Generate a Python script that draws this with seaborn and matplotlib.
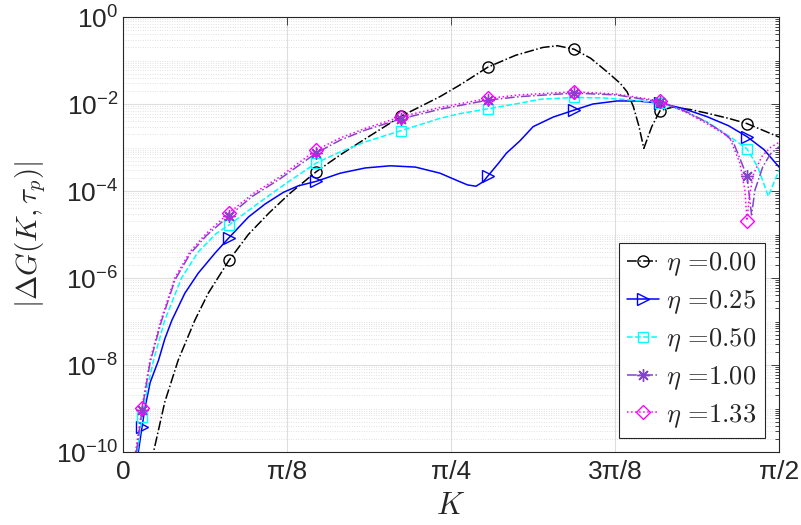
import numpy as np
import pandas as pd
import matplotlib
matplotlib.use("Agg")
import matplotlib.pyplot as plt
import seaborn as sns
from matplotlib.font_manager import FontProperties
from matplotlib.ticker import LogLocator, NullFormatter

# K positions where markers sit (same for every curve)
MARK_K = [0.0455, 0.254, 0.462, 0.666, 0.874, 1.080, 1.286, 1.494]

# eta = 0.00 (black, dash-dot, circles); values are log10 |dG|
k_eta000 = [0.0455, 0.073, 0.100, 0.132, 0.172, 0.204, 0.254, 0.300, 0.350, 0.400,
            0.462, 0.520, 0.580, 0.666, 0.759, 0.807, 0.874, 0.940, 1.005, 1.040,
            1.080, 1.120, 1.159, 1.190, 1.207, 1.222, 1.235, 1.247, 1.266, 1.286,
            1.317, 1.360, 1.398, 1.450, 1.494, 1.5708]
log_eta000 = [-11.7, -10.0, -8.85, -7.89, -6.97, -6.35, -5.59, -5.0, -4.5, -4.05,
              -3.56, -3.17, -2.80, -2.28, -1.83, -1.56, -1.15, -0.88, -0.70, -0.66,
              -0.74, -0.95, -1.26, -1.52, -1.72, -2.06, -2.5, -3.02, -2.52, -2.15,
              -2.07, -2.13, -2.21, -2.33, -2.45, -2.76]

# eta = 0.25 (blue, solid, triangles)
k_eta025 = [0.0366, 0.0455, 0.053, 0.065, 0.085, 0.100, 0.117, 0.148, 0.180, 0.220,
            0.254, 0.300, 0.340, 0.384, 0.420, 0.462, 0.520, 0.580, 0.640, 0.700,
            0.759, 0.800, 0.825, 0.845, 0.862, 0.874, 0.900, 0.918, 0.950, 0.982,
            1.030, 1.080, 1.125, 1.183, 1.230, 1.286, 1.340, 1.398, 1.450, 1.494,
            1.535, 1.5708]
log_eta025 = [-10.0, -9.42, -8.96, -8.4, -7.89, -7.4, -6.97, -6.35, -5.89, -5.43,
              -5.07, -4.6, -4.3, -4.03, -3.88, -3.78, -3.59, -3.47, -3.42, -3.45,
              -3.59, -3.76, -3.86, -3.89, -3.79, -3.65, -3.35, -3.13, -2.85, -2.52,
              -2.30, -2.14, -2.00, -1.93, -1.93, -1.98, -2.10, -2.29, -2.50, -2.75,
              -3.05, -3.45]

# eta = 0.50 (cyan, dashed, squares)
k_eta050 = [0.034, 0.0455, 0.060, 0.073, 0.100, 0.140, 0.180, 0.224, 0.254, 0.300,
            0.350, 0.400, 0.462, 0.520, 0.580, 0.666, 0.759, 0.807, 0.874, 0.950,
            1.000, 1.080, 1.150, 1.207, 1.286, 1.340, 1.398, 1.453, 1.494, 1.520,
            1.545, 1.5708]
log_eta050 = [-10.0, -9.2, -8.45, -7.89, -6.97, -6.0, -5.4, -4.97, -4.78, -4.45,
              -4.1, -3.76, -3.36, -3.10, -2.87, -2.61, -2.33, -2.22, -2.11, -1.98,
              -1.89, -1.85, -1.86, -1.90, -1.97, -2.15, -2.41, -2.75, -3.03, -3.45,
              -4.12, -3.52]

# eta = 1.00 (purple, dash-dot, asterisks)
k_eta100 = [0.032, 0.0455, 0.0646, 0.091, 0.124, 0.160, 0.200, 0.254, 0.310, 0.376,
            0.462, 0.520, 0.580, 0.666, 0.759, 0.874, 0.950, 1.080, 1.180, 1.286,
            1.350, 1.398, 1.436, 1.460, 1.477, 1.494, 1.505, 1.513, 1.532, 1.550, 1.5708]
log_eta100 = [-10.0, -9.03, -7.95, -7.02, -6.05, -5.45, -5.02, -4.57, -4.12, -3.72,
              -3.13, -2.83, -2.60, -2.34, -2.12, -1.91, -1.83, -1.75, -1.79, -1.95,
              -2.18, -2.42, -2.65, -2.85, -3.25, -3.66, -4.55, -3.98, -3.44, -3.15, -2.98]

# eta = 1.33 (magenta, dotted, diamonds)
k_eta133 = [0.030, 0.0455, 0.0646, 0.091, 0.124, 0.160, 0.200, 0.254, 0.310, 0.376,
            0.462, 0.520, 0.580, 0.666, 0.759, 0.874, 0.950, 1.080, 1.180, 1.221,
            1.286, 1.350, 1.398, 1.436, 1.453, 1.477, 1.489, 1.494, 1.500, 1.510,
            1.530, 1.550, 1.5708]
log_eta133 = [-10.0, -8.98, -7.89, -6.97, -6.0, -5.40, -4.97, -4.50, -4.07, -3.67,
              -3.06, -2.78, -2.56, -2.29, -2.08, -1.87, -1.79, -1.72, -1.77, -1.83,
              -1.93, -2.2, -2.45, -2.67, -2.78, -3.36, -3.98, -4.68, -4.1, -3.6,
              -3.2, -3.0, -2.88]

LABELS = [r"$\eta$ =0.00", r"$\eta$ =0.25", r"$\eta$ =0.50", r"$\eta$ =1.00", r"$\eta$ =1.33"]
XTICK_POS = [0, np.pi / 8, np.pi / 4, 3 * np.pi / 8, np.pi / 2]
XTICK_LABELS = ["0", "\u03c0/8", "\u03c0/4", "3\u03c0/8", "\u03c0/2"]
YTICK_VALS = [1e-10, 1e-8, 1e-6, 1e-4, 1e-2, 1e0]
YTICK_LABELS = [r"$10^{-10}$", r"$10^{-8}$", r"$10^{-6}$", r"$10^{-4}$", r"$10^{-2}$", r"$10^{0}$"]

sns.set_theme(style="white")
plt.rcParams["font.family"] = ["Liberation Sans", "DejaVu Sans"]
plt.rcParams["mathtext.fontset"] = "custom"
plt.rcParams["mathtext.rm"] = "Liberation Sans"
plt.rcParams["mathtext.it"] = "Liberation Sans:italic"
plt.rcParams["mathtext.bf"] = "Liberation Sans:bold"

fig = plt.figure(figsize=(8.01, 5.25), dpi=100)
ax = fig.add_axes([0.1536, 0.139, 0.819, 0.8286])
ax.set_yscale("log")

series = [
    (k_eta000, log_eta000, "black", "-.", "o", 8),
    (k_eta025, log_eta025, "#0000FF", "-", ">", 8),
    (k_eta050, log_eta050, "#00FFFF", "--", "s", 7),
    (k_eta100, log_eta100, "#8344C8", "-.", (8, 2, 0), 9),
    (k_eta133, log_eta133, "#FF00FF", ":", "D", 7),
]

for (k, lg, color, ls, marker, ms), label in zip(series, LABELS):
    df = pd.DataFrame({"K": k, "dG": 10.0 ** np.array(lg)})
    idx = [i for i, kv in enumerate(k) if kv in MARK_K]
    sns.lineplot(data=df, x="K", y="dG", ax=ax, color=color, linestyle=ls,
                 linewidth=1.1, marker=marker, markersize=ms,
                 markerfacecolor="none", markeredgecolor=color,
                 markeredgewidth=1.0, markevery=idx, label=label,
                 sort=False, estimator=None)

ax.set_xlim(0, np.pi / 2)
ax.set_ylim(1e-10, 1)
ax.set_xticks(XTICK_POS)
ax.set_xticklabels(XTICK_LABELS)
ax.set_yticks(YTICK_VALS)
ax.set_yticklabels(YTICK_LABELS)
ax.yaxis.set_minor_locator(LogLocator(base=10, subs=np.arange(1, 10), numticks=100))
ax.yaxis.set_minor_formatter(NullFormatter())

ax.tick_params(which="both", direction="in", top=True, right=True,
               colors="#262626", labelcolor="#262626", width=0.6)
ax.tick_params(which="major", length=6, labelsize=19)
ax.tick_params(axis="x", which="major", pad=6)
ax.tick_params(which="minor", length=3)

ax.set_axisbelow(True)
ax.grid(which="major", color="#DEDEDE", linewidth=0.8, linestyle="-")
ax.grid(which="minor", axis="y", color="#C6C6C6", linewidth=0.5,
        linestyle=(0, (1, 2.5)))
for sp in ax.spines.values():
    sp.set_color("#262626")
    sp.set_linewidth(0.8)

ax.set_xlabel(r"$K$", fontsize=22, math_fontfamily="cm", labelpad=5)
ax.set_ylabel(r"$|\Delta G(K,\tau_p)|$", fontsize=21, math_fontfamily="cm", labelpad=6)

prop = FontProperties(family="cmr10", size=19, math_fontfamily="cm")
leg = ax.legend(loc="lower right", prop=prop, frameon=True, fancybox=False,
                edgecolor="#262626", framealpha=1, handlelength=1.2,
                handletextpad=0.3, labelspacing=0.38, borderpad=0.3,
                borderaxespad=0.55)
leg.get_frame().set_linewidth(0.8)

fig.savefig("out.png", dpi=100)
